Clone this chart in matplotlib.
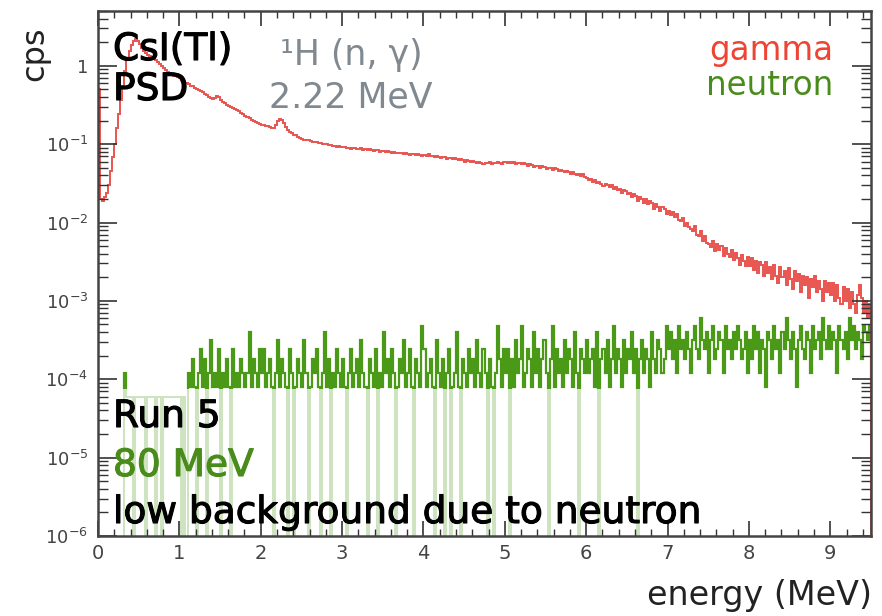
import numpy as np
import matplotlib
matplotlib.use("Agg")
import matplotlib.pyplot as plt
import matplotlib.patheffects as pe
from matplotlib.patches import Rectangle
from matplotlib.ticker import FixedLocator, NullFormatter, FuncFormatter, MultipleLocator

# bin width of both spectra (MeV)
bin_width = 0.025

# gamma spectrum (cps), one list per MeV
gamma_0 = [0.50, 0.020, 0.019, 0.021, 0.024, 0.030, 0.045, 0.068, 0.10, 0.16,
           0.24, 0.37, 0.56, 0.85, 1.26, 1.55, 1.85, 2.1, 2.2, 2.1,
           1.9, 1.7, 1.55, 1.45, 1.38, 1.32, 1.28, 1.24, 1.20, 1.12,
           1.05, 0.98, 0.93, 0.88, 0.84, 0.80, 0.78, 0.75, 0.73, 0.71]
gamma_1 = [0.70, 0.66, 0.63, 0.61, 0.58, 0.56, 0.545, 0.52, 0.50, 0.49,
           0.48, 0.46, 0.44, 0.42, 0.40, 0.39, 0.38, 0.39, 0.41, 0.40,
           0.37, 0.35, 0.335, 0.32, 0.31, 0.30, 0.29, 0.28, 0.272, 0.262,
           0.252, 0.243, 0.232, 0.222, 0.213, 0.206, 0.199, 0.192, 0.186, 0.181]
gamma_2 = [0.178, 0.176, 0.171, 0.168, 0.164, 0.161, 0.163, 0.176, 0.196, 0.211,
           0.204, 0.186, 0.166, 0.151, 0.143, 0.138, 0.132, 0.129, 0.124, 0.121,
           0.118, 0.114, 0.113, 0.112, 0.109, 0.108, 0.105, 0.106, 0.103, 0.102,
           0.101, 0.099, 0.100, 0.097, 0.098, 0.095, 0.096, 0.093, 0.094, 0.092]
gamma_3 = [0.091, 0.093, 0.089, 0.090, 0.087, 0.089, 0.088, 0.086, 0.087, 0.088,
           0.085, 0.087, 0.083, 0.086, 0.084, 0.082, 0.084, 0.083, 0.080, 0.082,
           0.081, 0.079, 0.081, 0.080, 0.077, 0.079, 0.078, 0.076, 0.078, 0.077,
           0.074, 0.076, 0.075, 0.073, 0.075, 0.074, 0.072, 0.074, 0.073, 0.071]
gamma_4 = [0.072, 0.071, 0.074, 0.070, 0.071, 0.068, 0.070, 0.069, 0.067, 0.069,
           0.068, 0.065, 0.067, 0.066, 0.064, 0.066, 0.065, 0.062, 0.064, 0.063,
           0.060, 0.062, 0.061, 0.059, 0.061, 0.060, 0.057, 0.059, 0.058, 0.056,
           0.058, 0.057, 0.059, 0.056, 0.058, 0.057, 0.059, 0.058, 0.056, 0.059]
gamma_5 = [0.059, 0.057, 0.060, 0.058, 0.059, 0.056, 0.058, 0.057, 0.055, 0.057,
           0.056, 0.053, 0.055, 0.054, 0.051, 0.053, 0.052, 0.050, 0.052, 0.051,
           0.048, 0.050, 0.049, 0.047, 0.049, 0.048, 0.045, 0.047, 0.046, 0.044,
           0.046, 0.044, 0.042, 0.044, 0.042, 0.040, 0.042, 0.039, 0.041, 0.038]
gamma_6 = [0.037, 0.035, 0.036, 0.033, 0.035, 0.032, 0.033, 0.031, 0.029, 0.031,
           0.030, 0.028, 0.030, 0.027, 0.028, 0.026, 0.027, 0.024, 0.026, 0.025,
           0.023, 0.024, 0.021, 0.023, 0.022, 0.019, 0.021, 0.020, 0.018, 0.020,
           0.017, 0.019, 0.018, 0.015, 0.017, 0.016, 0.014, 0.016, 0.015, 0.0130]
gamma_7 = [0.0140, 0.0125, 0.0136, 0.0116, 0.0129, 0.0107, 0.0104, 0.0115, 0.0091, 0.0099,
           0.0088, 0.0082, 0.0079, 0.0089, 0.0069, 0.0068, 0.0077, 0.0058, 0.0068, 0.0054,
           0.0053, 0.0049, 0.0058, 0.0043, 0.0053, 0.0044, 0.0050, 0.0037, 0.0048, 0.0040,
           0.0036, 0.0045, 0.0033, 0.0041, 0.0035, 0.0029, 0.0039, 0.0032, 0.0028, 0.0036]
gamma_8 = [0.0028, 0.0035, 0.0025, 0.0032, 0.0023, 0.0031, 0.0029, 0.0021, 0.0031, 0.0023,
           0.0027, 0.0019, 0.0029, 0.0021, 0.0017, 0.0027, 0.0020, 0.0024, 0.0016, 0.0026,
           0.0019, 0.0014, 0.0024, 0.0018, 0.0022, 0.0013, 0.0021, 0.0016, 0.0020, 0.0011,
           0.0019, 0.0015, 0.0021, 0.0013, 0.0018, 0.0014, 0.0010, 0.0018, 0.0013, 0.0017]
gamma_9 = [0.0012, 0.0017, 0.0010, 0.0016, 0.0011, 0.0009, 0.0015, 0.0010, 0.0014, 0.0008,
           0.0013, 0.0009, 0.0007, 0.0012, 0.0016, 0.0011, 0.0007, 0.0010, 0.0006, 0.0009]

# neutron spectrum in units of 1e-5 cps (0 = empty bin)
neutron_0 = [0, 0, 0, 0, 0, 0, 0, 0, 0, 0, 0, 0, 0, 12, 6, 6, 6, 0, 6, 6,
             6, 6, 6, 0, 6, 6, 6, 6, 0, 6, 6, 0, 6, 6, 6, 6, 6, 6, 6, 6]
neutron_1 = [6, 0, 6, 0, 12, 8, 18, 8, 0, 12, 24, 8, 18, 0, 12, 32, 8, 12, 8, 24,
             0, 12, 8, 18, 8, 0, 24, 8, 12, 8, 18, 12, 8, 12, 40, 8, 18, 12, 8, 24]
neutron_2 = [12, 24, 8, 12, 18, 8, 0, 12, 32, 8, 18, 12, 8, 0, 24, 12, 0, 8, 18, 12,
             8, 32, 12, 0, 8, 18, 12, 24, 8, 0, 12, 40, 8, 18, 0, 12, 8, 24, 12, 8]
neutron_3 = [18, 8, 0, 12, 24, 8, 12, 18, 8, 32, 12, 8, 0, 18, 12, 8, 24, 0, 12, 8,
             40, 12, 18, 8, 24, 12, 0, 8, 18, 12, 32, 8, 12, 24, 8, 0, 18, 12, 8, 48]
neutron_4 = [24, 8, 12, 18, 8, 0, 32, 12, 8, 18, 0, 12, 24, 0, 8, 12, 40, 8, 0, 18,
             12, 8, 24, 12, 18, 8, 32, 12, 8, 24, 12, 0, 18, 8, 0, 12, 48, 18, 8, 24]
neutron_5 = [12, 24, 0, 18, 8, 32, 12, 18, 48, 8, 12, 24, 18, 8, 40, 12, 24, 8, 18, 32,
             12, 0, 18, 48, 8, 24, 12, 18, 8, 32, 12, 24, 18, 8, 40, 12, 0, 24, 18, 12]
neutron_6 = [32, 12, 18, 24, 8, 40, 0, 18, 24, 12, 32, 8, 18, 48, 12, 24, 18, 8, 32, 12,
             24, 18, 40, 12, 24, 0, 18, 32, 12, 24, 18, 8, 40, 18, 12, 32, 24, 12, 18, 48]
neutron_7 = [24, 40, 18, 32, 12, 48, 24, 32, 18, 40, 24, 12, 32, 48, 24, 18, 60, 32, 24, 40,
             12, 32, 48, 18, 24, 40, 32, 12, 48, 24, 32, 18, 40, 24, 48, 32, 18, 24, 40, 12]
neutron_8 = [32, 18, 48, 24, 40, 12, 32, 24, 8, 40, 32, 18, 48, 24, 32, 12, 40, 24, 60, 32,
             18, 40, 24, 8, 32, 48, 24, 18, 40, 32, 12, 48, 24, 32, 40, 18, 60, 32, 24, 48]
neutron_9 = [24, 40, 32, 12, 48, 32, 24, 40, 18, 60, 32, 48, 24, 40, 32, 18, 48, 40, 32, 48]

x_ticks = [0, 1, 2, 3, 4, 5, 6, 7, 8, 9]
y_ticks = [1e-6, 1e-5, 1e-4, 1e-3, 1e-2, 1e-1, 1]

gamma = np.array(gamma_0 + gamma_1 + gamma_2 + gamma_3 + gamma_4 +
                 gamma_5 + gamma_6 + gamma_7 + gamma_8 + gamma_9)
neutron = np.array(neutron_0 + neutron_1 + neutron_2 + neutron_3 + neutron_4 +
                   neutron_5 + neutron_6 + neutron_7 + neutron_8 + neutron_9) * 1e-5

# empty bins fall below the axis, like a ROOT histogram on log scale
floor = 1e-9
gamma_edges = bin_width * np.arange(-1, len(gamma) + 1)
gamma_vals = np.concatenate([[floor], gamma])
neutron_edges = bin_width * np.arange(len(neutron) + 1)
neutron_vals = np.where(neutron > 0, neutron, floor)

fig = plt.figure(figsize=(8.82, 6.16), dpi=100)
ax = fig.add_axes([98 / 882, 1 - 536 / 616, 773 / 882, 525 / 616])
ax.set_yscale("log")
ax.set_xlim(0, 9.5)
ax.set_ylim(1e-6, 5)

green = "#4a9a18"
# faint part of the neutron histogram (drops to empty bins)
ax.stairs(neutron_vals, neutron_edges, color=green, lw=1.4, alpha=0.28)
strong = ax.stairs(neutron_vals, neutron_edges, color=green, lw=1.6)
clip = Rectangle((-1, 7.5e-5), 12, 100, transform=ax.transData)
strong.set_clip_path(clip)

ax.stairs(gamma_vals, gamma_edges, color="#e85550", lw=1.4)

# ROOT-like axes
for s in ax.spines.values():
    s.set_color("#444444")
    s.set_linewidth(1.8)
    s.set_zorder(5)
ax.xaxis.set_major_locator(FixedLocator(x_ticks))
ax.xaxis.set_minor_locator(MultipleLocator(0.2))
ax.yaxis.set_major_locator(FixedLocator(y_ticks))
minor_y = [m * 10.0 ** e for e in range(-6, 1) for m in range(2, 10)]
ax.yaxis.set_minor_locator(FixedLocator(minor_y))
ax.yaxis.set_minor_formatter(NullFormatter())


def fmt(v, pos):
    e = int(round(np.log10(v)))
    return "1" if e == 0 else r"$10^{%d}$" % e


ax.yaxis.set_major_formatter(FuncFormatter(fmt))
ax.tick_params(which="both", direction="in", top=True, right=True, colors="#333333",
               labelcolor="#444444")
ax.tick_params(axis="x", which="major", length=11, width=1.2, labelsize=14, pad=6)
ax.tick_params(axis="x", which="minor", length=5, width=1.0)
ax.tick_params(axis="y", which="major", length=14, width=1.2, labelsize=13, pad=7)
ax.tick_params(axis="y", which="minor", length=7, width=1.0)

W, H = 882, 616


def ftext(x, y, s, color, size, heavy=0.0, **kw):
    t = fig.text(x / W, 1 - y / H, s, color=color, fontsize=size, **kw)
    if heavy:
        t.set_path_effects([pe.withStroke(linewidth=heavy, foreground=color)])


ftext(35, 26, "cps", "#222222", 23, rotation=90, ha="center", va="top")
ftext(872, 605, "energy (MeV)", "#222222", 24, ha="right", va="baseline")

ftext(113, 60, "CsI(Tl)", "black", 27, 0.8, ha="left", va="baseline")
ftext(113, 100, "PSD", "black", 27, 0.8, ha="left", va="baseline")
ftext(351, 65, "¹H (n, γ)", "#808890", 25, ha="center", va="baseline")
ftext(351, 107, "2.22 MeV", "#808890", 25, ha="center", va="baseline")
ftext(833, 60, "gamma", "#ee4433", 23.5, ha="right", va="baseline")
ftext(833, 95, "neutron", "#4a8c1c", 23.5, ha="right", va="baseline")

ftext(113, 427, "Run 5", "black", 27, 0.8, ha="left", va="baseline")
ftext(113, 476, "80 MeV", "#4a8c1c", 27, 0.8, ha="left", va="baseline")
ftext(113, 523, "low background due to neutron", "black", 27, 0.8, ha="left", va="baseline")

fig.savefig("out.png", dpi=100, facecolor="white")
